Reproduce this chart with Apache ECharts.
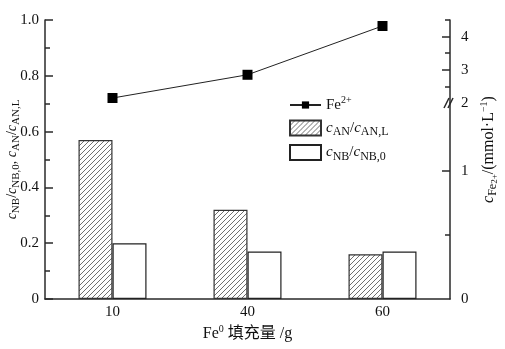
<!DOCTYPE html>
<html>
<head>
<meta charset="utf-8">
<script src="https://cdn.jsdelivr.net/npm/echarts@6/dist/echarts.min.js"></script>
<style>
html, body { margin: 0; padding: 0; background: #fff; }
#chart { width: 505px; height: 349px; }
</style>
</head>
<body>
<div id="chart"></div>
<script>
// Fe0 dosage (g)
const categories = ['10', '40', '60'];
// c_AN / c_AN,L
const anRatio = [0.57, 0.32, 0.16];
// c_NB / c_NB,0
const nbRatio = [0.20, 0.17, 0.17];
// Fe2+ concentration, mmol/L
const fe2 = [2.15, 2.85, 4.32];

// tick values of the broken right-hand axis
const upperMajor = [2, 3, 4];
const upperMinor = [2.5, 3.5, 4.5];
const lowerMajor = [0, 1];
const lowerMinor = [0.5];

const FONT = "'Liberation Serif','Times New Roman','Noto Sans CJK SC',serif";
const INK = '#111';
const AXIS = '#2a2a2a';

function makeRich(main, sub) {
  return {
    t: { fontFamily: FONT, fontSize: main, lineHeight: 20, color: INK },
    i: { fontFamily: FONT, fontSize: main, lineHeight: 20, color: INK, fontStyle: 'italic' },
    s: { fontFamily: FONT, fontSize: sub, lineHeight: 10, color: INK, verticalAlign: 'bottom' },
    ss: { fontFamily: FONT, fontSize: sub - 3, lineHeight: 16, color: INK, verticalAlign: 'bottom' },
    p: { fontFamily: FONT, fontSize: 10, lineHeight: 14, color: INK, verticalAlign: 'top' }
  };
}
const rich = makeRich(15, 12);
const richLeft = makeRich(14, 11);
const richRight = makeRich(16, 12);
const richBottom = makeRich(16, 12);

// diagonal hatching for the aniline bars
function hatchPattern() {
  const s = 5;
  const c = document.createElement('canvas');
  c.width = s; c.height = s;
  const g = c.getContext('2d');
  g.fillStyle = '#fff';
  g.fillRect(0, 0, s, s);
  g.strokeStyle = '#606060';
  g.lineWidth = 0.9;
  g.beginPath();
  g.moveTo(0, s); g.lineTo(s, 0);
  g.moveTo(-s, s); g.lineTo(s, -s);
  g.moveTo(0, 2 * s); g.lineTo(2 * s, 0);
  g.stroke();
  return c;
}

const legendNames = {
  'Fe2+': '{t|Fe}{p|2+}',
  'AN': '{i|c}{s|AN}{t|/}{i|c}{s|AN,L}',
  'NB': '{i|c}{s|NB}{t|/}{i|c}{s|NB,0}'
};

const lineStyle = { color: AXIS, width: 1.5 };

const chart = echarts.init(document.getElementById('chart'), null, { renderer: 'canvas' });

const hiddenX = (gi) => ({
  type: 'category', gridIndex: gi, data: categories, show: false, boundaryGap: true
});

const gridBase = { left: 45, right: 55, containLabel: false, outerBoundsMode: 'none' };

chart.setOption({
  animation: false,
  backgroundColor: '#fff',
  grid: [
    Object.assign({ top: 20, bottom: 50 }, gridBase),
    Object.assign({ top: 20, height: 83 }, gridBase),
    Object.assign({ top: 103, height: 196 }, gridBase)
  ],
  legend: [
    {
      data: ['Fe2+'], orient: 'vertical', left: 289, top: 95, padding: 0,
      itemWidth: 31, itemHeight: 9, formatter: n => legendNames[n],
      textStyle: { fontFamily: FONT, fontSize: 15, color: INK, rich }
    },
    {
      data: ['AN', 'NB'], orient: 'vertical', left: 289, top: 119.5, padding: 0,
      itemWidth: 31, itemHeight: 15, itemGap: 6, icon: 'rect', formatter: n => legendNames[n],
      textStyle: { fontFamily: FONT, fontSize: 15, color: INK, rich }
    }
  ],
  xAxis: [
    {
      type: 'category', gridIndex: 0, data: categories, boundaryGap: true,
      axisLine: { show: true, lineStyle },
      axisTick: { show: false },
      axisLabel: { margin: 6, fontFamily: FONT, fontSize: 15, color: INK },
      name: '{t|Fe}{p|0}{t| 填充量 /g}', nameLocation: 'middle', nameGap: 25,
      nameMoveOverlap: false,
      nameTextStyle: { rich: richBottom }
    },
    hiddenX(1),
    hiddenX(2)
  ],
  yAxis: [
    {
      type: 'value', gridIndex: 0, position: 'left', min: 0, max: 1, interval: 0.2,
      axisLine: { show: true, lineStyle },
      axisTick: { show: true, inside: true, length: 8, lineStyle },
      minorTick: { show: true, splitNumber: 2, length: 5, lineStyle },
      splitLine: { show: false },
      axisLabel: {
        margin: 6, fontFamily: FONT, fontSize: 15, color: INK,
        formatter: v => (v === 0 ? '0' : v.toFixed(1))
      },
      name: '{i|c}{s|NB}{t|/}{i|c}{s|NB,0}{t|, }{i|c}{s|AN}{t|/}{i|c}{s|AN,L}',
      nameLocation: 'middle', nameRotate: 90, nameGap: 23, nameMoveOverlap: false,
      nameTextStyle: { rich: richLeft }
    },
    {
      type: 'value', gridIndex: 1, position: 'right', min: 2, max: 4.5,
      axisLine: { show: true, lineStyle },
      axisTick: { show: true, inside: true, length: 8, lineStyle, customValues: upperMajor.slice(1) },
      splitLine: { show: false },
      axisLabel: { margin: 11, fontFamily: FONT, fontSize: 15, color: INK, customValues: upperMajor }
    },
    {
      type: 'value', gridIndex: 1, position: 'right', min: 2, max: 4.5,
      axisLine: { show: false },
      axisTick: { show: true, inside: true, length: 5, lineStyle, customValues: upperMinor },
      splitLine: { show: false },
      axisLabel: { show: false }
    },
    {
      type: 'value', gridIndex: 2, position: 'right', min: 0, max: 1.53,
      axisLine: { show: true, lineStyle },
      axisTick: { show: true, inside: true, length: 8, lineStyle, customValues: lowerMajor.slice(1) },
      splitLine: { show: false },
      axisLabel: { margin: 11, fontFamily: FONT, fontSize: 15, color: INK, customValues: lowerMajor }
    },
    {
      type: 'value', gridIndex: 2, position: 'right', min: 0, max: 1.53,
      axisLine: { show: false },
      axisTick: { show: true, inside: true, length: 5, lineStyle, customValues: lowerMinor },
      splitLine: { show: false },
      axisLabel: { show: false }
    },
    {
      type: 'value', gridIndex: 0, position: 'right', min: 0, max: 1,
      axisLine: { show: false }, axisTick: { show: false }, axisLabel: { show: false },
      splitLine: { show: false },
      name: '{i|c}{s|Fe}{ss|2+}{t|/(mmol·L}{p|−1}{t|)}',
      nameLocation: 'middle', nameRotate: 90, nameGap: 29, nameMoveOverlap: false,
      nameTextStyle: { rich: richRight, padding: [0, 0, 0, 20] }
    }
  ],
  series: [
    {
      name: 'AN', type: 'bar', xAxisIndex: 0, yAxisIndex: 0, data: anRatio,
      barWidth: 34, barGap: '0%',
      itemStyle: { color: { image: hatchPattern(), repeat: 'repeat' }, borderColor: '#333', borderWidth: 1.2 }
    },
    {
      name: 'NB', type: 'bar', xAxisIndex: 0, yAxisIndex: 0, data: nbRatio,
      barWidth: 34, barGap: '0%',
      itemStyle: { color: '#fff', borderColor: '#222', borderWidth: 1.2 }
    },
    {
      name: 'Fe2+', type: 'line', xAxisIndex: 1, yAxisIndex: 1, data: fe2,
      symbol: 'rect', symbolSize: 10, clip: false, z: 5,
      itemStyle: { color: '#000' },
      lineStyle: { color: '#222', width: 1 }
    }
  ]
});

// break mark on the right-hand axis at the join of its two segments
const cx = chart.convertToPixel({ xAxisIndex: 1 }, categories[categories.length - 1]);
const cxPrev = chart.convertToPixel({ xAxisIndex: 1 }, categories[categories.length - 2]);
const axisX = cx + (cx - cxPrev) / 2;
const breakY = chart.convertToPixel({ yAxisIndex: 1 }, upperMajor[0]);
chart.setOption({
  graphic: [{
    type: 'group', x: axisX, y: breakY, z: 100,
    children: [
      { type: 'polygon', shape: { points: [[-4, 5], [0, -5], [3, -5], [-1, 5]] }, style: { fill: '#fff' } },
      { type: 'line', shape: { x1: -6, y1: 5, x2: -1, y2: -5 }, style: { stroke: AXIS, lineWidth: 1.5 } },
      { type: 'line', shape: { x1: -2, y1: 5, x2: 3, y2: -5 }, style: { stroke: AXIS, lineWidth: 1.5 } }
    ]
  }]
});
</script>
</body>
</html>
